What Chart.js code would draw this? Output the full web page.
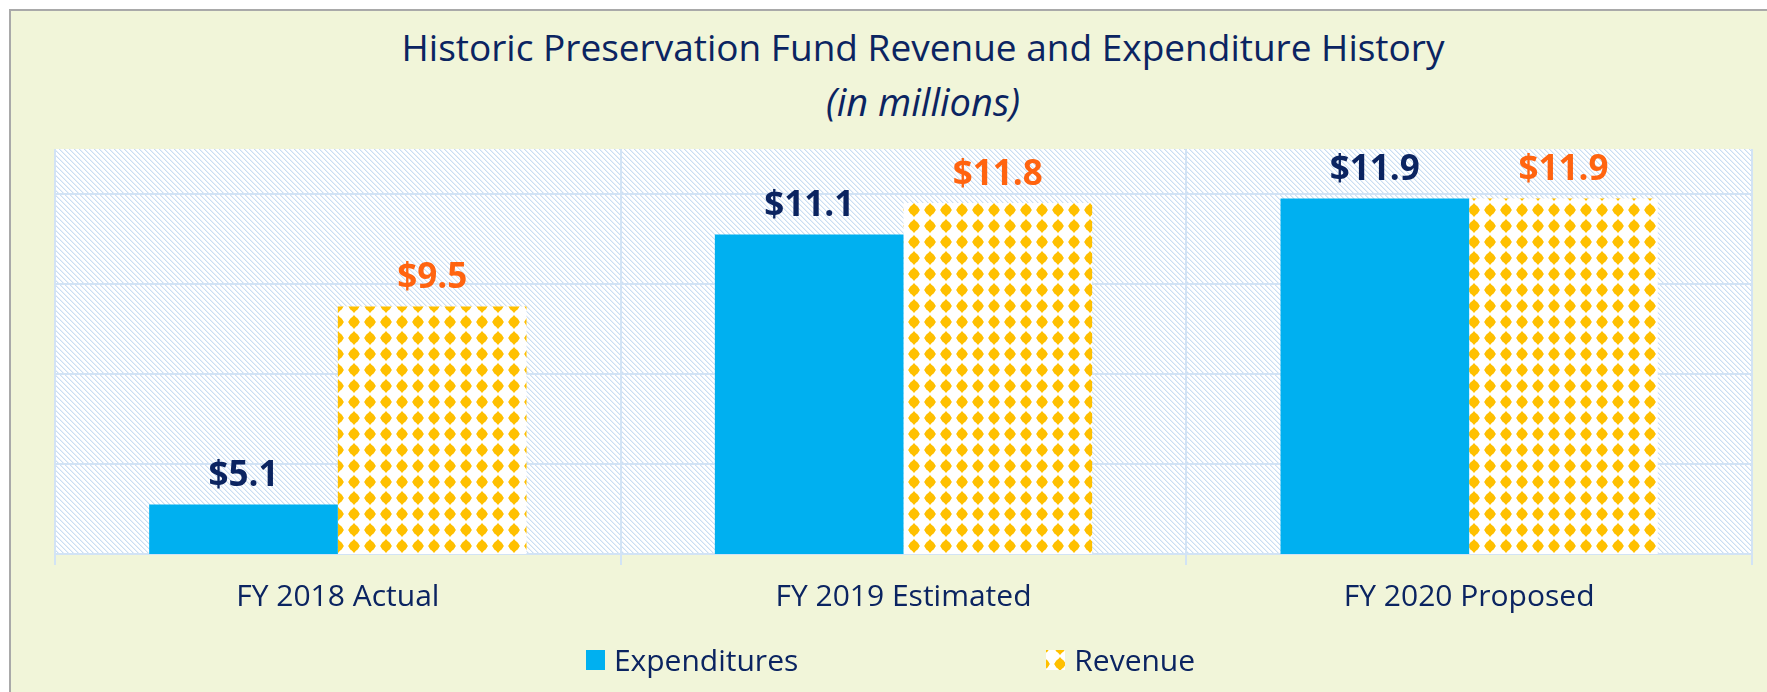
<!DOCTYPE html>
<html>
<head>
<meta charset="utf-8">
<script src="https://cdn.jsdelivr.net/npm/chart.js@4.4.1/dist/chart.umd.min.js"></script>
<style>
  html, body { margin: 0; padding: 0; background: #fff; overflow: hidden; }
  body { width: 1767px; height: 692px; position: relative; font-family: "Open Sans", sans-serif; }
  .frame { position: absolute; left: 9px; top: 9px; width: 1790px; height: 720px;
           background: #f1f5d9; border: 2px solid #a9a9a9; }
  .title, .subtitle { position: absolute; left: 0; width: 1846px; text-align: center; color: #0b2461; }
  .title { top: 28px; font-size: 37px; line-height: 37px; }
  .subtitle { top: 82px; font-size: 38px; line-height: 38px; font-style: italic; }
  canvas#chart { position: absolute; left: 0; top: 0; }
  #legend { position: absolute; left: 0; top: 645px; width: 1781px; display: flex;
            justify-content: center; gap: 248px; }
  #legend .item { display: flex; align-items: center; height: 30px; }
  #legend .item span { font-size: 30px; line-height: 30px; color: #0b2461; margin-left: 9px; }
</style>
</head>
<body>
<div class="frame"></div>
<div class="title">Historic Preservation Fund Revenue and Expenditure History</div>
<div class="subtitle">(in millions)</div>
<canvas id="chart" width="1767" height="692"></canvas>
<div id="legend"></div>
<script>
const categories = ['FY 2018 Actual', 'FY 2019 Estimated', 'FY 2020 Proposed'];
const expenditures = [5.1, 11.1, 11.9];
const revenue = [9.5, 11.8, 11.9];
const yMin = 4;
const yMax = 13;
const yStep = 2;

const navy = '#0b2461';
const orange = '#ff6410';
const gridBlue = '#d2e3f5';

const canvas = document.getElementById('chart');
const ctx = canvas.getContext('2d');

// light blue diagonal hatch behind the bars
function hatchPattern() {
  const t = document.createElement('canvas');
  t.width = 5; t.height = 5;
  const g = t.getContext('2d');
  g.fillStyle = '#fff';
  g.fillRect(0, 0, 5, 5);
  for (let i = 0; i < 5; i++) {
    g.fillStyle = '#cadef2';
    g.fillRect(i, i, 1, 1);
    g.fillStyle = '#e8f0fa';
    g.fillRect((i + 1) % 5, i, 1, 1);
  }
  return ctx.createPattern(t, 'repeat');
}

// gold diamonds on white for the revenue bars
function diamondPattern() {
  const t = document.createElement('canvas');
  t.width = 16; t.height = 16;
  const g = t.getContext('2d');
  g.fillStyle = '#fff';
  g.fillRect(0, 0, 16, 16);
  g.fillStyle = '#ffc000';
  g.beginPath();
  g.moveTo(8, 1); g.lineTo(14, 8); g.lineTo(8, 15); g.lineTo(2, 8);
  g.closePath();
  g.fill();
  g.beginPath();
  g.arc(8, 8, 5, 0, Math.PI * 2);
  g.fill();
  const p = ctx.createPattern(t, 'repeat');
  p.setTransform(new DOMMatrix().translate(-6, -6));
  return p;
}

const hatch = hatchPattern();
const diamonds = diamondPattern();

const plotBackground = {
  id: 'plotBackground',
  beforeDraw(chart) {
    const a = chart.chartArea;
    chart.ctx.save();
    chart.ctx.fillStyle = hatch;
    chart.ctx.fillRect(a.left, a.top, a.right - a.left, a.bottom - a.top);
    chart.ctx.restore();
  }
};

const barLabels = {
  id: 'barLabels',
  afterDatasetsDraw(chart) {
    const c = chart.ctx;
    chart.data.datasets.forEach((ds, i) => {
      chart.getDatasetMeta(i).data.forEach((bar, j) => {
        c.save();
        c.font = 'bold 35px "Open Sans"';
        c.fillStyle = ds.labelColor;
        c.textAlign = 'center';
        c.textBaseline = 'alphabetic';
        c.fillText('$' + ds.data[j].toFixed(1), bar.x, bar.y - 31 + 12.5);
        c.restore();
      });
    });
  }
};

// html legend built from the chart's own legend items
const htmlLegend = {
  id: 'htmlLegend',
  afterUpdate(chart) {
    const box = document.getElementById('legend');
    box.innerHTML = '';
    const items = chart.options.plugins.legend.labels.generateLabels(chart);
    items.forEach(item => {
      const el = document.createElement('div');
      el.className = 'item';
      const sw = document.createElement('canvas');
      sw.width = 19; sw.height = 20;
      const g = sw.getContext('2d');
      g.translate(-4, -4);
      g.fillStyle = item.fillStyle;
      g.fillRect(4, 4, 19, 20);
      const txt = document.createElement('span');
      txt.textContent = item.text;
      el.appendChild(sw);
      el.appendChild(txt);
      box.appendChild(el);
    });
  }
};

new Chart(canvas, {
  type: 'bar',
  data: {
    labels: categories,
    datasets: [
      { label: 'Expenditures', data: expenditures, backgroundColor: '#00b0f0', labelColor: navy },
      { label: 'Revenue', data: revenue, backgroundColor: diamonds, labelColor: orange }
    ]
  },
  options: {
    responsive: false,
    devicePixelRatio: 1,
    animation: false,
    layout: { padding: { top: 149, left: 55, right: 15, bottom: 38 } },
    datasets: { bar: { categoryPercentage: 0.667, barPercentage: 1.0, borderWidth: 0 } },
    plugins: {
      legend: { display: false },
      title: { display: false },
      tooltip: { enabled: false }
    },
    scales: {
      x: {
        grid: { offset: true, color: gridBlue, lineWidth: 2, tickLength: 11, drawTicks: true },
        border: { display: true, color: gridBlue, width: 2 },
        ticks: { color: navy, font: { family: 'Open Sans', size: 30 }, padding: 14 },
        afterFit(scale) { scale.height = 100; }
      },
      y: {
        min: yMin,
        max: yMax,
        ticks: { stepSize: yStep, display: false },
        grid: {
          color: c => (c.tick && c.tick.value === yMax ? 'rgba(0,0,0,0)' : gridBlue),
          lineWidth: 2,
          drawTicks: false
        },
        border: { display: false },
        afterFit(scale) { scale.width = 0; }
      }
    }
  },
  plugins: [plotBackground, barLabels, htmlLegend]
});
</script>
</body>
</html>
